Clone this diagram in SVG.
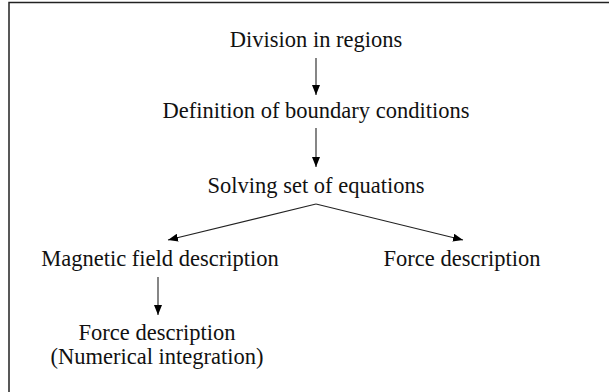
<svg xmlns="http://www.w3.org/2000/svg" width="609" height="392" viewBox="0 0 609 392">
<style>
text{font-family:"Liberation Serif","Times New Roman",serif;font-size:22.5px;fill:#111;text-anchor:middle}
.c{stroke:#222;stroke-width:1.1;fill:none;marker-end:url(#ah)}
</style>
<defs>
<marker id="ah" viewBox="0 0 10 8" refX="10" refY="4" markerWidth="10" markerHeight="8" markerUnits="userSpaceOnUse" orient="auto">
<path d="M0,0 L10,4 L0,8 Z" fill="#000"/>
</marker>
</defs>
<rect x="0" y="0" width="609" height="392" fill="#fff"/>
<path d="M9,400 V2.5 H620" fill="none" stroke="#222" stroke-width="1.5"/>
<g id="connectors">
<line class="c" x1="316" y1="58" x2="316" y2="95"/>
<line class="c" x1="316" y1="128" x2="316" y2="167"/>
<line class="c" x1="316" y1="204" x2="168" y2="240"/>
<line class="c" x1="316" y1="204" x2="463" y2="240"/>
<line class="c" x1="158" y1="277" x2="158" y2="315"/>
</g>
<g id="n1"><text x="316" y="47">Division in regions</text></g>
<g id="n2"><text x="316" y="118">Definition of boundary conditions</text></g>
<g id="n3"><text x="316" y="193">Solving set of equations</text></g>
<g id="n4"><text x="160" y="266">Magnetic field description</text></g>
<g id="n5"><text x="462" y="266">Force description</text></g>
<g id="n6"><text x="157" y="340">Force description</text><text x="157" y="364">(Numerical integration)</text></g>
</svg>
